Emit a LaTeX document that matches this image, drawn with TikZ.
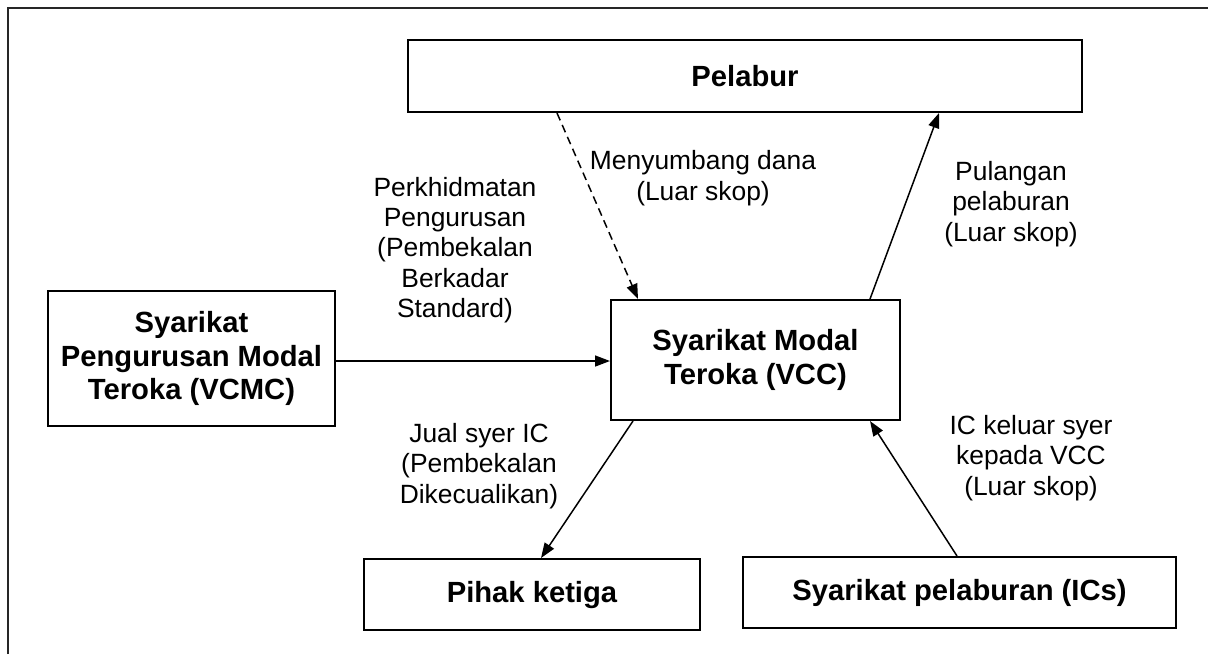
\documentclass[tikz,border=0pt]{standalone}
\usepackage{fontspec}
\setmainfont{Liberation Sans}
\usetikzlibrary{arrows.meta}
\tikzset{
  boxnode/.style={draw, line width=1pt, rectangle, inner sep=0pt, align=center,
    font=\fontsize{14.6}{16.8}\selectfont\bfseries},
  lbl/.style={align=center, inner sep=0pt, font=\fontsize{13.2}{15.2}\selectfont},
  conn/.style={line width=0.75pt, -{Triangle[length=7.5pt,width=5.5pt]}},
}
\begin{document}
\begin{tikzpicture}[x=0.5pt,y=-0.5pt]
\useasboundingbox (0,0) rectangle (1208,654);
\coordinate (fa) at (8,654);
\coordinate (fb) at (8,8);
\coordinate (fc) at (1208,8);
\draw[line width=1.1pt, black!85] (fa) -- (fb) -- (fc);

\node[boxnode, minimum width=337pt, minimum height=36pt] (pel) at (745,76) {Pelabur};
\node[boxnode, minimum width=144.5pt, minimum height=60pt] (vcc) at (755.5,360) {Syarikat Modal\\Teroka (VCC)};
\node[boxnode, minimum width=143.5pt, minimum height=67.5pt] (vcmc) at (191.5,358.5) {Syarikat\\Pengurusan Modal\\Teroka (VCMC)};
\node[boxnode, minimum width=168pt, minimum height=35.5pt] (pihak) at (532,594.5) {Pihak ketiga};
\node[boxnode, minimum width=216.5pt, minimum height=35.5pt] (ics) at (959.5,592.5) {Syarikat pelaburan (ICs)};

\draw[conn, dash pattern=on 4pt off 2.5pt] ([xshift=75pt]pel.south west) -- ([xshift=14pt]vcc.north west);
\draw[conn] (vcmc.east |- 0,361) -- (vcc.west |- 0,361);
\draw[conn] ([xshift=130pt]vcc.north west) -- ([xshift=266pt]pel.south west);
\draw[conn] ([xshift=11.5pt]vcc.south west) -- ([xshift=89pt]pihak.north west);
\draw[conn] ([xshift=107.5pt]ics.north west) -- ([xshift=130pt]vcc.south west);

\node[lbl] (l1) at (703,178) {Menyumbang dana\\(Luar skop)};
\node[lbl] (l2) at (455,250) {Perkhidmatan\\Pengurusan\\(Pembekalan\\Berkadar\\Standard)};
\node[lbl] (l3) at (1011,204) {Pulangan\\pelaburan\\(Luar skop)};
\node[lbl] (l4) at (479,466) {Jual syer IC\\(Pembekalan\\Dikecualikan)};
\node[lbl] (l5) at (1031,458) {IC keluar syer\\kepada VCC\\(Luar skop)};
\end{tikzpicture}
\end{document}
